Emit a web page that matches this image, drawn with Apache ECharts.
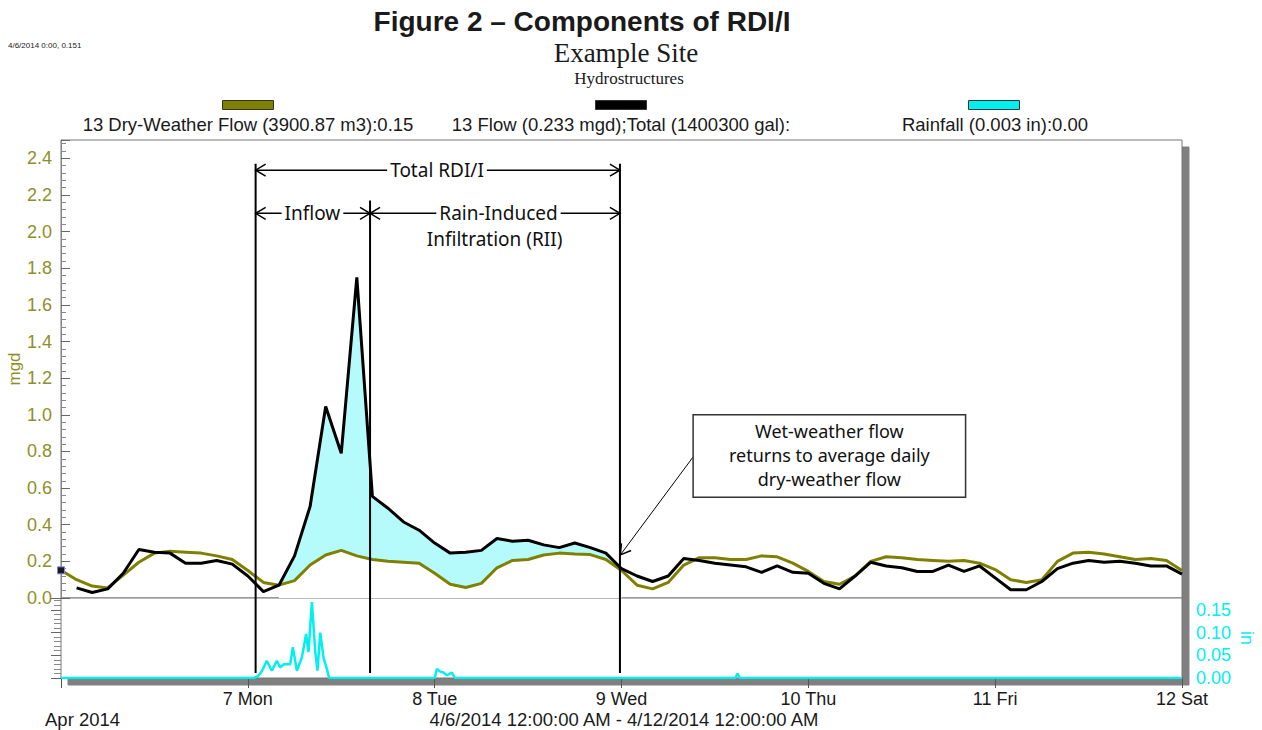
<!DOCTYPE html>
<html>
<head>
<meta charset="utf-8">
<script src="https://cdn.jsdelivr.net/npm/echarts@6/dist/echarts.min.js"></script>
<style>
  html, body { margin: 0; padding: 0; background: #fff; }
  #chart { width: 1262px; height: 730px; }
</style>
</head>
<body>
<div id="chart"></div>
<script>
// readings every 2 hours from 4/6/2014 0:00 (hour = index * 2), mgd
const dryFlow = [
  0.151, 0.10, 0.065, 0.055, 0.125, 0.195, 0.245, 0.255, 0.25, 0.245, 0.23, 0.21,
  0.15, 0.085, 0.07, 0.095, 0.18, 0.235, 0.26, 0.23, 0.21, 0.20, 0.195, 0.19,
  0.135, 0.075, 0.057, 0.08, 0.165, 0.205, 0.21, 0.235, 0.245, 0.24, 0.237, 0.21,
  0.15, 0.07, 0.05, 0.085, 0.18, 0.22, 0.22, 0.21, 0.21, 0.23, 0.225, 0.19,
  0.145, 0.09, 0.075, 0.12, 0.20, 0.225, 0.22, 0.21, 0.205, 0.20, 0.205, 0.19,
  0.155, 0.10, 0.085, 0.10, 0.20, 0.245, 0.25, 0.24, 0.225, 0.21, 0.215, 0.205,
  0.15
];
const flow = [
  null, 0.055, 0.03, 0.05, 0.135, 0.265, 0.25, 0.245, 0.19, 0.19, 0.205, 0.185,
  0.12, 0.035, 0.07, 0.23, 0.50, 1.045, 0.79, 1.75, 0.555, 0.49, 0.415, 0.37,
  0.30, 0.245, 0.25, 0.26, 0.325, 0.31, 0.315, 0.29, 0.275, 0.30, 0.275, 0.245,
  0.16, 0.12, 0.09, 0.12, 0.215, 0.205, 0.19, 0.18, 0.17, 0.14, 0.175, 0.14,
  0.135, 0.08, 0.05, 0.12, 0.195, 0.175, 0.165, 0.145, 0.145, 0.18, 0.145, 0.175,
  0.11, 0.045, 0.045, 0.09, 0.16, 0.19, 0.205, 0.195, 0.20, 0.19, 0.175, 0.175,
  0.13
];
// rainfall, hours after 4/6/2014 0:00 and inches
const rainHours = [
  0, 24.8, 25.3, 25.8, 26.44, 27.08, 27.73, 28.15, 28.58, 29.44, 29.78, 30.3,
  30.94, 31.49, 31.79, 32.23, 32.65, 32.95, 33.3, 33.72, 34.15, 34.45,
  48.0, 48.3, 48.7, 49.1, 49.6, 50.2, 50.6,
  86.6, 86.9, 87.2, 144
];
const rainInches = [
  0, 0, 0.004, 0.015, 0.038, 0.016, 0.038, 0.023, 0.03, 0.03, 0.068, 0.016,
  0.045, 0.097, 0.057, 0.167, 0.06, 0.016, 0.10, 0.045, 0.02, 0,
  0, 0.02, 0.014, 0.012, 0.006, 0.012, 0,
  0, 0.01, 0, 0
];
const dayLabels = ['', '7 Mon', '8 Tue', '9 Wed', '10 Thu', '11 Fri', '12 Sat'];
const legendTexts = [
  '13 Dry-Weather Flow (3900.87 m3):0.15',
  '13 Flow (0.233 mgd);Total (1400300 gal):',
  'Rainfall (0.003 in):0.00'
];
// shaded RDI/I between these reading indices
const rdiiFrom = 14, rdiiTo = 36;
// annotation times (hours)
const tStart = 25, tSplit = 39.7, tEnd = 71.8;

const OLIVE = '#808000';
const OLIVE_TXT = '#8f8f2a';
const CYAN = '#00f0f0';
const SANS = '"Liberation Sans", Arial, sans-serif';
const SERIF = '"Liberation Serif", serif';
const HAND = '"Noto Sans", sans-serif';

var chart = echarts.init(document.getElementById('chart'), null, { renderer: 'svg' });

const dryData = dryFlow.map((v, i) => [i * 2, v]);
const flowData = flow.map((v, i) => [i * 2, v]).filter(p => p[1] !== null);
const rainData = rainHours.map((h, i) => [h, rainInches[i]]);
// RDI/I shading: wet flow filled cyan, dry flow filled white on top of it
const wetFill = [], dryFill = [];
for (let i = rdiiFrom; i <= rdiiTo; i++) {
  wetFill.push([i * 2, flow[i]]);
  dryFill.push([i * 2, dryFlow[i]]);
}

function legendBox(name, left) {
  return {
    data: [name], left: left, top: 100, padding: 0,
    icon: 'rect', itemWidth: 51, itemHeight: 9,
    selectedMode: false, formatter: () => '',
    itemStyle: { borderColor: '#333', borderWidth: 1 }
  };
}
function textTitle(text, left, top, size, align, family, weight) {
  return {
    text: text, left: left, top: top, padding: 0, textAlign: align,
    textStyle: { fontFamily: family || SANS, fontSize: size, fontWeight: weight || 'normal', color: '#1a1a1a' }
  };
}

var option = {
  animation: false,
  backgroundColor: '#fff',
  title: [
    textTitle('Figure 2 – Components of RDI/I', 582, 7, 28, 'center', SANS, 'bold'),
    textTitle('Example Site', 626, 39, 27, 'center', SERIF),
    textTitle('Hydrostructures', 629, 70, 17, 'center', SERIF),
    textTitle('4/6/2014 0:00, 0.151', 8, 41, 8, 'left'),
    textTitle(legendTexts[0], 248, 115, 18.5, 'center'),
    textTitle(legendTexts[1], 621, 115, 18.5, 'center'),
    textTitle(legendTexts[2], 995, 115, 18.5, 'center'),
    textTitle('Apr 2014', 45, 710, 18.5, 'left'),
    textTitle('4/6/2014 12:00:00 AM - 4/12/2014 12:00:00 AM', 624, 710, 18.5, 'center')
  ],
  legend: [
    legendBox('Dry-Weather Flow', 222),
    legendBox('Flow', 595),
    legendBox('Rainfall', 968)
  ],
  grid: [
    { left: 61, right: 80, top: 140, height: 458, show: true, backgroundColor: '#fff',
      outerBoundsMode: 'none', containLabel: false,
      borderColor: '#777', borderWidth: 1,
      shadowColor: '#808080', shadowBlur: 0, shadowOffsetX: 7, shadowOffsetY: 7 },
    { left: 61, right: 80, top: 598, height: 80, show: true, backgroundColor: '#fff',
      outerBoundsMode: 'none', containLabel: false,
      borderColor: '#777', borderWidth: 1,
      shadowColor: '#808080', shadowBlur: 0, shadowOffsetX: 7, shadowOffsetY: 7 }
  ],
  xAxis: [
    { gridIndex: 0, type: 'value', min: 0, max: 144, show: false },
    { gridIndex: 1, type: 'value', min: 0, max: 144, interval: 24,
      axisLine: { show: false },
      axisTick: { length: 10, lineStyle: { color: '#555' } },
      splitLine: { show: false },
      axisLabel: { margin: 12, fontFamily: SANS, fontSize: 18, color: '#1a1a1a',
        formatter: v => dayLabels[Math.round(v / 24)] } }
  ],
  yAxis: [
    { gridIndex: 0, type: 'value', min: 0, max: 2.5, interval: 0.2,
      name: 'mgd', nameLocation: 'middle', nameGap: 38, nameMoveOverlap: false,
      nameTextStyle: { color: OLIVE_TXT, fontFamily: SANS, fontSize: 17 },
      axisLine: { show: true, lineStyle: { color: '#888' } },
      axisTick: { inside: true, length: 9, lineStyle: { color: '#666' } },
      minorTick: { show: true, splitNumber: 5, length: 5, lineStyle: { color: '#888' } },
      splitLine: { show: false },
      axisLabel: { margin: 9, fontFamily: SANS, fontSize: 18, color: OLIVE_TXT,
        showMaxLabel: false, formatter: v => v.toFixed(1) } },
    { gridIndex: 1, type: 'value', position: 'right', min: 0, max: 0.176, interval: 0.05,
      name: 'in', nameLocation: 'middle', nameGap: 56, nameRotate: -90, nameMoveOverlap: false,
      nameTextStyle: { color: CYAN, fontFamily: SANS, fontSize: 18 },
      axisLine: { show: false },
      axisTick: { inside: true, length: 10, lineStyle: { color: '#666' } },
      minorTick: { show: true, splitNumber: 5, length: 7, lineStyle: { color: '#888' } },
      splitLine: { show: false },
      axisLabel: { margin: 14, fontFamily: SANS, fontSize: 18, color: CYAN,
        showMaxLabel: false, formatter: v => v.toFixed(2) } }
  ],
  series: [
    { name: 'wetFill', type: 'line', data: wetFill, symbol: 'none', silent: true, z: 1,
      lineStyle: { width: 0, opacity: 0 }, areaStyle: { color: '#b6fbfb', opacity: 1 } },
    { name: 'dryFill', type: 'line', data: dryFill, symbol: 'none', silent: true, z: 2,
      lineStyle: { width: 0, opacity: 0 }, areaStyle: { color: '#fff', opacity: 1 } },
    { name: 'Dry-Weather Flow', type: 'line', data: dryData, symbol: 'none', color: OLIVE,
      lineStyle: { color: OLIVE, width: 3 }, z: 3,
      markPoint: { symbol: 'rect', symbolSize: 7, silent: true, label: { show: false },
        itemStyle: { color: '#1a1a1a', borderColor: '#8080ff', borderWidth: 1 },
        data: [{ coord: [0, dryFlow[0]] }] } },
    { name: 'Flow', type: 'line', data: flowData, symbol: 'none', color: '#000',
      lineStyle: { color: '#000', width: 3 }, z: 4 },
    { name: 'Rainfall', type: 'line', xAxisIndex: 1, yAxisIndex: 1, data: rainData,
      symbol: 'none', color: CYAN, lineStyle: { color: CYAN, width: 2.5 }, z: 3 }
  ]
};
chart.setOption(option);

// annotations placed through the axes
function p0(h, v) { return chart.convertToPixel({ gridIndex: 0 }, [h, v]); }
function p1(h, v) { return chart.convertToPixel({ gridIndex: 1 }, [h, v]); }
function seg(a, b, w) {
  return { type: 'line', z: 50, silent: true,
    shape: { x1: a[0], y1: a[1], x2: b[0], y2: b[1] },
    style: { stroke: '#000', lineWidth: w } };
}
function head(tip, from) {
  const dx = tip[0] - from[0], dy = tip[1] - from[1];
  const len = Math.sqrt(dx * dx + dy * dy);
  const ux = dx / len, uy = dy / len;
  return { type: 'polyline', z: 50, silent: true,
    shape: { points: [
      [tip[0] - ux * 10 - uy * 6, tip[1] - uy * 10 + ux * 6],
      tip,
      [tip[0] - ux * 10 + uy * 6, tip[1] - uy * 10 - ux * 6]] },
    style: { stroke: '#000', lineWidth: 1.5, fill: null } };
}
function arrow2(hA, hB, v) {
  const a = p0(hA, v), b = p0(hB, v);
  return [seg(a, b, 1.5), head(a, b), head(b, a)];
}
function label(text, h, v, bg, size, lineHeight) {
  const p = p0(h, v);
  return { type: 'text', z: 60, silent: true, x: p[0], y: p[1],
    style: { text: text, font: (size || 19) + 'px ' + HAND, fill: '#111', lineHeight: lineHeight || 22,
      align: 'center', verticalAlign: 'middle',
      backgroundColor: bg ? '#fff' : null, padding: [0, 3] } };
}

const g = [];
[[tStart, 2.37], [tSplit, 2.17], [tEnd, 2.37]].forEach(m => {
  g.push(seg(p0(m[0], m[1]), p1(m[0], 0.011), 2));
});
g.push(...arrow2(tStart, tEnd, 2.335));
g.push(...arrow2(tStart, tSplit, 2.10));
g.push(...arrow2(tSplit, tEnd, 2.10));
g.push(label('Total RDI/I', 48.3, 2.335, true));
g.push(label('Inflow', 32.3, 2.10, true));
g.push(label('Rain-Induced', 56.2, 2.10, true));
g.push(label('Infiltration (RII)', 55.7, 1.96, false));

const boxA = p0(81.2, 1.0), boxB = p0(116.2, 0.55);
g.push({ type: 'rect', z: 55, silent: true,
  shape: { x: boxA[0], y: boxA[1], width: boxB[0] - boxA[0], height: boxB[1] - boxA[1] },
  style: { fill: '#fff', stroke: '#333', lineWidth: 1.5 } });
g.push(label('Wet-weather flow\nreturns to average daily\ndry-weather flow', 98.7, 0.78, false, 18, 24));
const ptFrom = p0(81.2, 0.77), ptTip = p0(71.85, 0.235);
g.push(seg(ptFrom, ptTip, 1));
g.push(head(ptTip, ptFrom));

chart.setOption({ graphic: g });
</script>
</body>
</html>
